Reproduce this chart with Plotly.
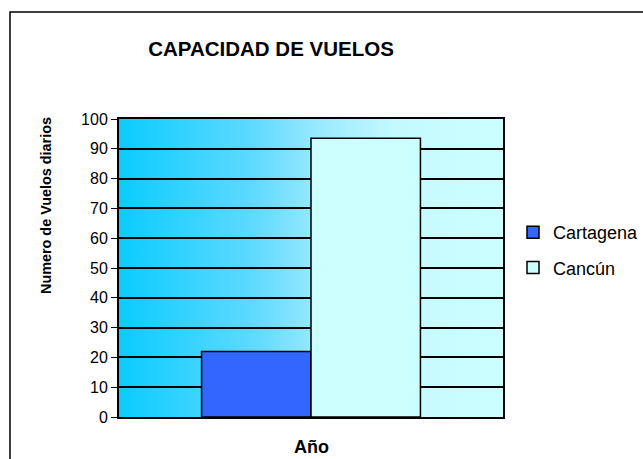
import base64
import plotly.graph_objects as go

# ---- data ----
categories = ["Año"]
series_names = ["Cartagena", "Cancún"]
cartagena = [22]
cancun = [93.5]
y_ticks = [0, 10, 20, 30, 40, 50, 60, 70, 80, 90, 100]

W, H = 643, 459
L, R, T, B = 119, 503, 119, 417
pw, ph = R - L, B - T

def px(x):
    return (x - L) / pw

def py(y):
    return (B - y) / ph

# gradient background for the plot area (svg data uri)
svg = (
    '<svg xmlns="http://www.w3.org/2000/svg" width="100" height="100" viewBox="0 0 100 100" preserveAspectRatio="none">'
    '<defs><linearGradient id="g" x1="0" y1="0" x2="1" y2="0">'
    '<stop offset="0" stop-color="#0ACCFF"/>'
    '<stop offset="0.35" stop-color="#5FD9FF"/>'
    '<stop offset="0.52" stop-color="#9AEAFF"/>'
    '<stop offset="0.72" stop-color="#C4F9FF"/>'
    '<stop offset="1" stop-color="#CCFFFF"/>'
    '</linearGradient></defs>'
    '<rect x="0" y="0" width="100" height="100" fill="url(#g)"/></svg>'
)
svg_uri = "data:image/svg+xml;base64," + base64.b64encode(svg.encode()).decode()

fig = go.Figure()
fig.add_trace(go.Bar(
    x=categories, y=cartagena, name=series_names[0], legendgroup="a",
    marker=dict(color="#3366FF", line=dict(color="#000000", width=1.5)),
))
fig.add_trace(go.Bar(
    x=categories, y=cancun, name=series_names[1], legendgroup="b",
    marker=dict(color="#CCFFFF", line=dict(color="#000000", width=1.5)),
))

fig.update_layout(
    width=W, height=H,
    margin=dict(l=L, r=W - R, t=T, b=H - B, autoexpand=False),
    paper_bgcolor="white",
    plot_bgcolor="rgba(0,0,0,0)",
    font=dict(family="Liberation Sans, Arial, sans-serif", color="black", size=13),
    barmode="group", bargap=0.43, bargroupgap=0,
    title=dict(text="<b>CAPACIDAD DE VUELOS</b>", x=271 / W, xref="container",
               y=1 - 49 / H, yref="container", xanchor="center", yanchor="middle",
               font=dict(size=20.5, color="black")),
    xaxis=dict(showticklabels=False, ticks="", showgrid=False,
               showline=True, linecolor="black", linewidth=2, mirror=True, automargin=False),
    yaxis=dict(range=[0, 100], tickvals=y_ticks, ticks="outside", ticklen=6,
               tickcolor="black", tickwidth=1, showgrid=True, gridcolor="black", gridwidth=1.5,
               showline=True, linecolor="black", linewidth=2, mirror=True,
               tickfont=dict(size=16), automargin=False, zeroline=False),
    legend=dict(x=px(513), y=py(250), xanchor="left", yanchor="middle",
                font=dict(size=18), bgcolor="rgba(0,0,0,0)", tracegroupgap=9,
                traceorder="grouped", itemwidth=30),
    showlegend=True,
    images=[dict(source=svg_uri, xref="paper", yref="paper", x=0, y=1,
                 sizex=1, sizey=1, sizing="stretch", xanchor="left", yanchor="top",
                 layer="below")],
    shapes=[dict(type="rect", xref="paper", yref="paper",
                 x0=px(10), x1=px(700), y0=py(520), y1=py(12),
                 line=dict(color="black", width=1.5), fillcolor="rgba(0,0,0,0)", layer="below")],
    annotations=[
        dict(text="<b>Numero de Vuelos diarios</b>", xref="paper", yref="paper",
             x=px(46), y=py(206), textangle=-90, showarrow=False,
             xanchor="center", yanchor="middle", font=dict(size=14.4)),
        dict(text="<b>Año</b>", xref="paper", yref="paper",
             x=px(311), y=py(447), showarrow=False,
             xanchor="center", yanchor="middle", font=dict(size=18)),
    ],
)

fig.write_html(
    "out.html",
    config={"displayModeBar": False},
    post_script="document.body.style.margin='0px';document.body.style.overflow='hidden';",
)
